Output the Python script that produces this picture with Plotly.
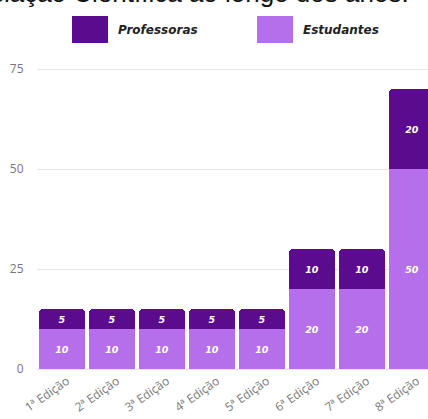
import plotly.graph_objects as go

categories = ["1ª Edição", "2ª Edição", "3ª Edição", "4ª Edição", "5ª Edição", "6ª Edição", "7ª Edição", "8ª Edição"]
estudantes = [10, 10, 10, 10, 10, 20, 20, 50]
professoras = [5, 5, 5, 5, 5, 10, 10, 20]
y_ticks = [0, 25, 50, 75]
title_text = "Participação na Iniciação Científica ao longo dos anos."

DARK = "#5B0B8E"
LIGHT = "#B56FEA"

bar_font = dict(family="DejaVu Sans", size=9.5, color="white", weight="bold", style="italic")

fig = go.Figure()
fig.add_trace(go.Bar(
    x=categories, y=estudantes, name="Estudantes", marker_color=LIGHT,
    text=estudantes, textposition="inside", insidetextanchor="middle", textangle=0,
    textfont=bar_font, showlegend=False, marker_line_width=0, cliponaxis=False,
))
fig.add_trace(go.Bar(
    x=categories, y=professoras, name="Professoras", marker_color=DARK,
    text=professoras, textposition="inside", insidetextanchor="middle", textangle=0,
    textfont=bar_font, showlegend=False, marker_line_width=0, cliponaxis=False,
))

L, T, PW, PH = 37, 59, 391, 310

def px(x):
    return (x - L) / PW

def py(y):
    return 1 + (T - y) / PH

# custom legend
legend_items = [("Professoras", DARK, 72), ("Estudantes", LIGHT, 257)]
shapes = []
annotations = []
for name, col, x0 in legend_items:
    shapes.append(dict(type="rect", xref="paper", yref="paper",
                       x0=px(x0), x1=px(x0 + 36), y0=py(43), y1=py(16),
                       fillcolor=col, line=dict(width=0), layer="above"))
    annotations.append(dict(xref="paper", yref="paper",
                            x=px(x0 + 44), y=py(30),
                            xanchor="left", yanchor="middle", showarrow=False,
                            text=name,
                            font=dict(family="DejaVu Sans", size=12, color="#222", weight="bold", style="italic")))
annotations.append(dict(xref="paper", yref="paper",
                        x=px(411), y=py(10),
                        xanchor="right", yanchor="bottom", showarrow=False,
                        text=title_text,
                        font=dict(family="Arial", size=26, color="#111")))

fig.update_layout(
    width=428, height=419,
    margin=dict(l=L, r=0, t=T, b=419 - T - PH),
    barmode="stack", bargap=0.08, barcornerradius=4,
    plot_bgcolor="white", paper_bgcolor="white",
    shapes=shapes, annotations=annotations,
    xaxis=dict(range=[-0.5, 7.32], tickangle=-35, showgrid=False, showline=False, automargin=False,
               tickfont=dict(family="Open Sans", size=12, color="#777"), ticks="",
               ticklabelstandoff=2, ticklabelshift=5),
    yaxis=dict(range=[0, 77.5], tickvals=y_ticks, showgrid=True, gridcolor="#E6E6E6", automargin=False,
               zeroline=True, zerolinecolor="#E6E6E6", zerolinewidth=1,
               tickfont=dict(family="Open Sans", size=12, color="#777"),
               ticks="outside", ticklen=10, tickcolor="rgba(0,0,0,0)"),
)

fig.write_html("out.html", config={"displayModeBar": False},
               post_script="document.body.style.margin='0';document.body.style.overflow='hidden';")
